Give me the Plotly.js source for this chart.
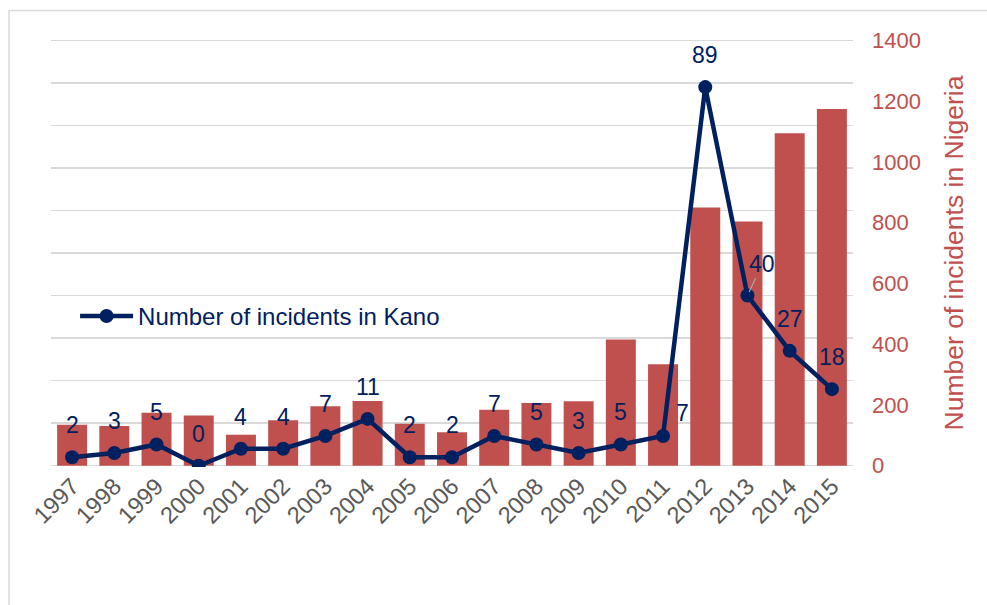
<!DOCTYPE html>
<html>
<head>
<meta charset="utf-8">
<script src="https://cdn.plot.ly/plotly-3.0.1.min.js"></script>
<style>html,body{margin:0;padding:0;background:#fff;}#chart{width:987px;height:605px;}</style>
</head>
<body>
<div id="chart"></div>
<script>
const years = ['1997','1998','1999','2000','2001','2002','2003','2004','2005','2006','2007','2008','2009','2010','2011','2012','2013','2014','2015'];
const nigeriaIncidents = [135,131,174,165,102,150,196,213,138,110,184,206,212,415,334,850,804,1094,1174];
const kanoIncidents = [2,3,5,0,4,4,7,11,2,2,7,5,3,5,7,89,40,27,18];
const rightTicks = [0,200,400,600,800,1000,1200,1400];

const navy = '#002060';
const red = '#C0504D';

const traces = [
  {
    type: 'bar', x: years, y: nigeriaIncidents, xaxis: 'x', yaxis: 'y',
    name: 'Number of incidents in Nigeria', showlegend: false,
    marker: {color: red}
  },
  {
    type: 'scatter', mode: 'lines+markers', x: years, y: kanoIncidents, xaxis: 'x', yaxis: 'y2',
    name: 'Number of incidents in Kano',
    line: {color: navy, width: 4.5}, marker: {color: navy, size: 14}
  }
];

// data labels: x given as category index on the category axis
const annotations = years.map((yr, i) => {
  const a = {
    x: i, y: kanoIncidents[i], xref: 'x', yref: 'y2', text: String(kanoIncidents[i]),
    showarrow: false, yanchor: 'middle', xanchor: 'center', yshift: 32,
    font: {family: 'Liberation Sans, Arial, sans-serif', size: 23, color: navy}
  };
  if (yr === '2011') { a.xshift = 19; a.yshift = 23; }
  if (yr === '2013') {
    a.showarrow = true; a.ax = 15; a.ay = -32; a.arrowhead = 0; a.arrowwidth = 1.2;
    a.arrowcolor = '#A6A6A6'; a.yshift = 0; a.standoff = 4;
  }
  return a;
});

const layout = {
  width: 987, height: 605,
  margin: {l: 51, r: 134, t: 39, b: 138},
  paper_bgcolor: '#fff', plot_bgcolor: 'rgba(0,0,0,0)',
  font: {family: 'Liberation Sans, Arial, sans-serif'},
  bargap: 0.29,
  xaxis: {
    type: 'category', categoryarray: years, range: [-0.5, 18.5], autorange: false,
    tickangle: -45, showgrid: false, zeroline: false,
    showline: false, ticks: '',
    tickfont: {size: 23.5, color: '#595959'}
  },
  yaxis: {
    side: 'right', range: [-4.2, 1404.2], autorange: false, tickvals: rightTicks, showgrid: false, zeroline: false,
    tickfont: {size: 22, color: red}, ticks: '', ticklabelstandoff: 18,
    title: {text: 'Number of incidents in Nigeria', font: {size: 26.5, color: red}, standoff: 24}
  },
  yaxis2: {
    overlaying: 'y', side: 'left', range: [-0.3, 100.3], autorange: false, tick0: 0, dtick: 10, showticklabels: false,
    showgrid: true, gridcolor: '#D9D9D9', gridwidth: 1.5, zeroline: false, ticks: ''
  },
  showlegend: true,
  legend: {
    x: 0.03, y: 0.352, xanchor: 'left', yanchor: 'middle', bgcolor: 'rgba(0,0,0,0)',
    font: {size: 24, color: navy}, itemwidth: 53
  },
  annotations: annotations,
  shapes: [{
    type: 'rect', xref: 'paper', yref: 'paper',
    x0: (9 - 51) / 802, x1: (1000 - 51) / 802,
    y0: (467 - 620) / 428, y1: (467 - 10.5) / 428,
    line: {color: '#D9D9D9', width: 1.5}, fillcolor: 'rgba(0,0,0,0)', layer: 'below'
  }]
};

Plotly.newPlot('chart', traces, layout, {displayModeBar: false, staticPlot: true});
</script>
</body>
</html>
